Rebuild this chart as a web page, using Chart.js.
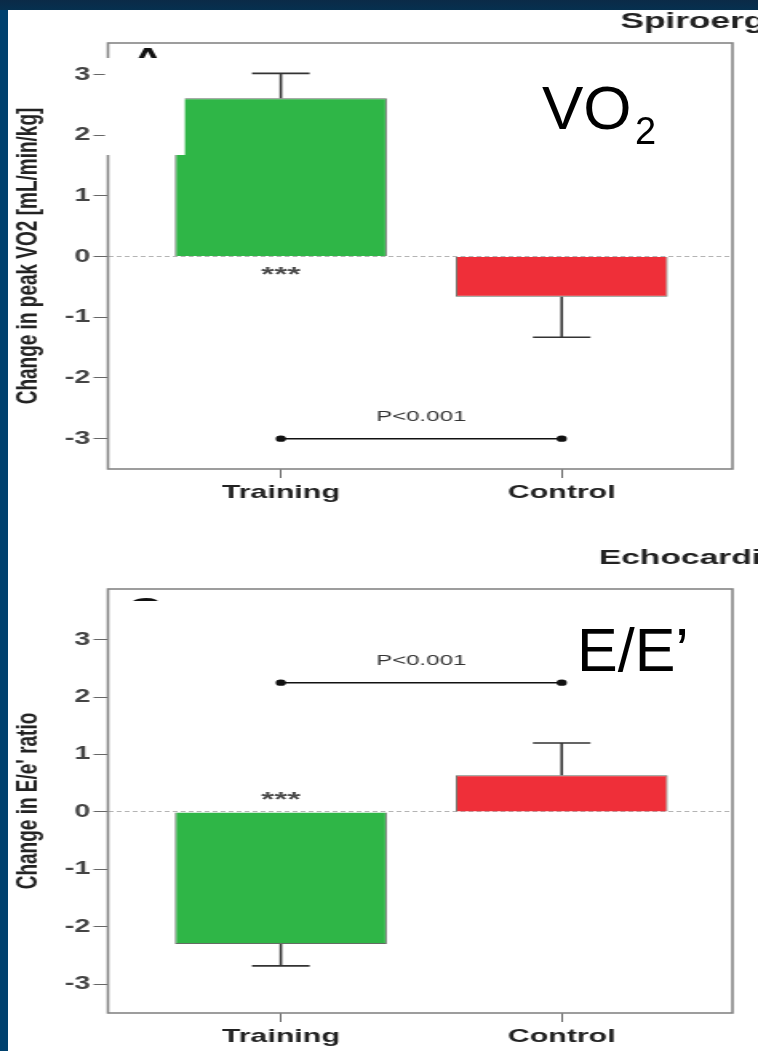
<!DOCTYPE html>
<html>
<head>
<meta charset="utf-8">
<script src="https://cdn.jsdelivr.net/npm/chart.js@4.4.1/dist/chart.umd.min.js"></script>
<style>
  html, body { margin: 0; padding: 0; }
  body { width: 758px; height: 1051px; overflow: hidden; position: relative; background: #00416e; }
  #faixa { position: absolute; left: 0; top: 0; width: 758px; height: 10px; background: linear-gradient(#0b2a47, #06304f); }
  #painel { position: absolute; left: 8px; top: 10px; right: 0; bottom: 0; background: #fff; }
  canvas { position: absolute; }
  .rotulo { position: absolute; font-family: 'Liberation Sans', Arial, Helvetica, sans-serif; line-height: 1; color: #000; white-space: nowrap; }
</style>
</head>
<body>
<div id="faixa"></div>
<div id="painel"></div>
<canvas id="graf1" width="469" height="500" style="left:8px;top:10px;width:750px;height:500px"></canvas>
<canvas id="graf2" width="469" height="521" style="left:8px;top:530px;width:750px;height:521px"></canvas>
<div class="rotulo" style="left:542px;top:77px;font-size:62px">VO</div>
<div class="rotulo" style="left:635px;top:112px;font-size:38px">2</div>
<div class="rotulo" style="left:577px;top:620px;font-size:61px">E/E’</div>
<script>
// Grupos e cores
const grupos = ['Training', 'Control'];
const coresBarras = ['#2fb647', '#ef2f39'];
const ticksY = [-3, -2, -1, 0, 1, 2, 3];

// Painel A: variação do VO2 de pico (média e erro)
const vo2Media = [2.61, -0.66];
const vo2Erro = [0.41, 0.67];
const vo2Faixa = [-3.5, 3.52];
const vo2P = -3;

// Painel C: variação da razão E/e'
const eeMedia = [-2.30, 0.64];
const eeErro = [0.38, 0.56];
const eeFaixa = [-3.5, 3.88];
const eeP = 2.25;

const FONTE = "'Liberation Sans', Arial, Helvetica, sans-serif";

// Moldura, barras de erro, asteriscos, p-valor, letra do painel e título da seção
const extras = {
  id: 'extras',
  afterDatasetsDraw(chart, args, o) {
    const { ctx, chartArea: a, scales: { x, y } } = chart;
    ctx.save();
    ctx.strokeStyle = '#858585';
    ctx.lineWidth = 1.6;
    ctx.strokeRect(a.left, a.top, a.right - a.left, a.bottom - a.top);

    ctx.strokeStyle = '#333';
    ctx.lineWidth = 1.6;
    o.medias.forEach((m, i) => {
      const cx = x.getPixelForValue(i);
      const y0 = y.getPixelForValue(m);
      const y1 = y.getPixelForValue(m + Math.sign(m) * o.erros[i]);
      ctx.beginPath();
      ctx.moveTo(cx, y0);
      ctx.lineTo(cx, y1);
      ctx.moveTo(cx - 18, y1);
      ctx.lineTo(cx + 18, y1);
      ctx.stroke();
    });

    ctx.textAlign = 'center';
    ctx.textBaseline = 'middle';
    ctx.fillStyle = '#4a4a4a';
    ctx.font = 'bold 21px ' + FONTE;
    ctx.fillText('***', x.getPixelForValue(0), y.getPixelForValue(0) + o.dyEstrelas);
    ctx.fillStyle = '#333';
    ctx.font = '15px ' + FONTE;
    ctx.fillText('P<0.001', x.getPixelForValue(0.5), y.getPixelForValue(o.p) - 22);
    ctx.restore();
  },
  afterDraw(chart, args, o) {
    const ctx = chart.ctx;
    ctx.save();
    ctx.textAlign = 'center';
    ctx.textBaseline = 'alphabetic';
    ctx.fillStyle = '#111';
    ctx.font = 'bold ' + o.letraTam + 'px ' + FONTE;
    ctx.fillText(o.letra, o.letraX, o.letraY);
    ctx.fillStyle = '#fff';
    ctx.fillRect(o.tapa[0], o.tapa[1], o.tapa[2], o.tapa[3]);

    ctx.textAlign = 'left';
    ctx.fillStyle = '#222';
    ctx.font = 'bold ' + o.secaoTam + 'px ' + FONTE;
    ctx.fillText(o.secao, o.secaoX, o.secaoY);
    ctx.restore();
  }
};

function criarGrafico(id, cfg) {
  const ctx = document.getElementById(id).getContext('2d');
  return new Chart(ctx, {
    type: 'bar',
    data: {
      datasets: [
        {
          type: 'bar',
          data: cfg.medias.map((v, i) => ({ x: i, y: v })),
          backgroundColor: coresBarras,
          borderColor: 'rgba(45,60,45,0.75)',
          borderWidth: 1,
          barPercentage: 0.755,
          categoryPercentage: 1,
          order: 2
        },
        {
          // barra de comparação entre os grupos
          type: 'line',
          data: [{ x: 0, y: cfg.p }, { x: 1, y: cfg.p }],
          borderColor: '#111',
          borderWidth: 1.5,
          pointRadius: 3.2,
          pointBackgroundColor: '#111',
          pointBorderWidth: 0,
          order: 1
        }
      ]
    },
    options: {
      responsive: false,
      devicePixelRatio: 1,
      animation: false,
      layout: { padding: { top: cfg.topo, right: 16, left: 0, bottom: 0 } },
      plugins: {
        legend: { display: false },
        tooltip: { enabled: false },
        extras: cfg.extras
      },
      scales: {
        x: {
          type: 'linear',
          offset: false,
          min: -0.6156,
          max: 1.608,
          afterBuildTicks: s => { s.ticks = grupos.map((g, i) => ({ value: i })); },
          afterFit: s => { s.height = cfg.alturaX; },
          ticks: {
            callback: v => grupos[v],
            autoSkip: false,
            maxRotation: 0,
            padding: 3,
            color: '#222',
            font: { family: FONTE, weight: 'bold', size: 19 }
          },
          grid: { offset: false, drawOnChartArea: false, tickLength: 9, color: '#666', tickColor: '#666' },
          border: { display: false }
        },
        y: {
          min: cfg.faixa[0],
          max: cfg.faixa[1],
          afterBuildTicks: s => { s.ticks = ticksY.map(v => ({ value: v })); },
          afterFit: s => { s.width = 62.5; },
          ticks: {
            callback: v => String(v),
            padding: 2,
            color: '#444',
            font: { family: FONTE, weight: 'bold', size: 18 }
          },
          grid: {
            color: c => (c.tick && c.tick.value === 0) ? '#b4b4b4' : 'rgba(0,0,0,0)',
            tickColor: '#666',
            tickLength: 9,
            lineWidth: 1
          },
          border: { display: false, dash: [3, 2] },
          title: {
            display: true,
            text: cfg.tituloY,
            color: '#222',
            font: { family: FONTE, weight: 'bold', size: 19 },
            padding: { top: 1, bottom: 0 }
          }
        }
      }
    },
    plugins: [extras]
  });
}

criarGrafico('graf1', {
  medias: vo2Media, faixa: vo2Faixa, p: vo2P, topo: 33, alturaX: 41,
  tituloY: 'Change in peak VO2 [mL/min/kg]',
  extras: {
    medias: vo2Media, erros: vo2Erro, p: vo2P, dyEstrelas: 19,
    letra: 'A', letraTam: 26, letraX: 87.5, letraY: 56,
    tapa: [60.6, 48, 50, 97],
    secao: 'Spiroergometry', secaoTam: 22, secaoX: 383, secaoY: 18
  }
});

criarGrafico('graf2', {
  medias: eeMedia, faixa: eeFaixa, p: eeP, topo: 59, alturaX: 38,
  tituloY: "Change in E/e' ratio",
  extras: {
    medias: eeMedia, erros: eeErro, p: eeP, dyEstrelas: -12,
    letra: 'C', letraTam: 30, letraX: 85.6, letraY: 88,
    tapa: [65, 71, 61, 39],
    secao: 'Echocardiography', secaoTam: 21, secaoX: 369.4, secaoY: 34
  }
});
</script>
</body>
</html>
